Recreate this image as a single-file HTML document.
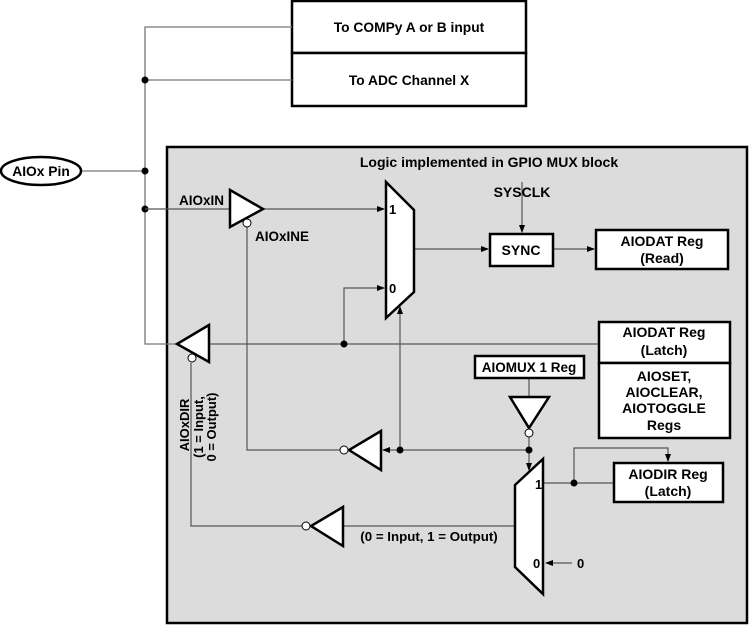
<!DOCTYPE html>
<html><head><meta charset="utf-8"><style>
html,body{margin:0;padding:0;background:#fff;}
svg{display:block;font-family:"Liberation Sans",Arial,sans-serif;font-weight:bold;}
</style></head><body>
<svg width="752" height="627" viewBox="0 0 752 627" xmlns="http://www.w3.org/2000/svg">
<defs>
<marker id="a" markerWidth="8" markerHeight="8" refX="7" refY="4" orient="auto" markerUnits="userSpaceOnUse">
<path d="M0,1 L8,4 L0,7 Z" fill="#000"/></marker>
</defs>
<rect x="167" y="147" width="580" height="476" fill="#dcdcdc" stroke="#000" stroke-width="2.5"/>
<rect x="292" y="1" width="234" height="52" fill="#fff" stroke="#000" stroke-width="2.5"/>
<rect x="292" y="53" width="234" height="53" fill="#fff" stroke="#000" stroke-width="2.5"/>
<text x="409" y="32" font-size="13.8" text-anchor="middle">To COMPy A or B input</text>
<text x="409" y="85" font-size="13.8" text-anchor="middle">To ADC Channel X</text>
<g stroke="#777" stroke-width="1.3" fill="none">
<path d="M292,27 H145 V344 H177"/>
<path d="M145,80 H292"/>
<path d="M81,171 H145"/>
</g>
<circle cx="145" cy="80" r="3.5"/><circle cx="145" cy="171" r="3.5"/><circle cx="145" cy="209" r="3.5"/>
<ellipse cx="41" cy="171" rx="40" ry="14" fill="#fff" stroke="#000" stroke-width="2.5"/>
<text x="41" y="176" font-size="13.8" text-anchor="middle">AIOx Pin</text>
<text x="489" y="167" font-size="14" text-anchor="middle">Logic implemented in GPIO MUX block</text>
<g stroke="#555" stroke-width="1.2" fill="none">
<path d="M145,209 H230"/>
<path d="M263,209 H384" marker-end="url(#a)"/>
<path d="M247,227 V450 H340"/>
<path d="M209,344 H599"/>
<path d="M344,344 V288 H384" marker-end="url(#a)"/>
<path d="M400,450 V307" marker-end="url(#a)"/>
<path d="M529,450 H383" marker-end="url(#a)"/>
<path d="M414,249 H488" marker-end="url(#a)"/>
<path d="M522,182 V232" marker-end="url(#a)"/>
<path d="M553,249 H594" marker-end="url(#a)"/>
<path d="M529,378 V396"/>
<path d="M529,437 V470" marker-end="url(#a)"/>
<path d="M543,483 H614"/>
<path d="M574,483 V448 H668 V461" marker-end="url(#a)"/>
<path d="M572,563 H546" marker-end="url(#a)"/>
<path d="M515,526 H343"/>
<path d="M302,526 H191 V363"/>
</g>
<circle cx="344" cy="344" r="3.5"/><circle cx="400" cy="450" r="3.5"/><circle cx="529" cy="450" r="3.5"/><circle cx="574" cy="483" r="3.5"/>
<path d="M230,190 L263,209 L230,227 Z" fill="#fff" stroke="#000" stroke-width="2.5"/>
<circle cx="247" cy="223" r="4" fill="#fff" stroke="#000"/>
<text x="179" y="205" font-size="13.5">AIOxIN</text>
<text x="255" y="241" font-size="13.5">AIOxINE</text>
<path d="M209,325 L177,344 L209,362 Z" fill="#fff" stroke="#000" stroke-width="2.5"/>
<circle cx="192" cy="358" r="4" fill="#fff" stroke="#000"/>
<path d="M386,182 L414,210 L414,292 L386,318 Z" fill="#fff" stroke="#000" stroke-width="2.5"/>
<text x="389" y="214" font-size="13">1</text>
<text x="389" y="293" font-size="13">0</text>
<text x="522" y="197" font-size="14" text-anchor="middle">SYSCLK</text>
<rect x="490" y="234" width="63" height="32" fill="#fff" stroke="#000" stroke-width="2.5"/>
<text x="521" y="255" font-size="14" text-anchor="middle">SYNC</text>
<rect x="596" y="230" width="132" height="39" fill="#fff" stroke="#000" stroke-width="2.5"/>
<text x="662" y="246" font-size="14" text-anchor="middle">AIODAT Reg</text>
<text x="662" y="263" font-size="14" text-anchor="middle">(Read)</text>
<rect x="599" y="322" width="131" height="41" fill="#fff" stroke="#000" stroke-width="2.5"/>
<rect x="599" y="363" width="131" height="75" fill="#fff" stroke="#000" stroke-width="2.5"/>
<text x="664" y="337" font-size="14" text-anchor="middle">AIODAT Reg</text>
<text x="664" y="355" font-size="14" text-anchor="middle">(Latch)</text>
<text x="664" y="381" font-size="14" text-anchor="middle">AIOSET,</text>
<text x="664" y="397" font-size="14" text-anchor="middle">AIOCLEAR,</text>
<text x="664" y="413" font-size="14" text-anchor="middle">AIOTOGGLE</text>
<text x="664" y="430" font-size="14" text-anchor="middle">Regs</text>
<rect x="475" y="356" width="109" height="22" fill="#fff" stroke="#000" stroke-width="2.5"/>
<text x="529" y="372" font-size="13.5" text-anchor="middle">AIOMUX 1 Reg</text>
<path d="M510,397 L549,397 L529,428 Z" fill="#fff" stroke="#000" stroke-width="2.5"/>
<circle cx="529" cy="433" r="4" fill="#fff" stroke="#000"/>
<path d="M381,431 L349,450 L381,470 Z" fill="#fff" stroke="#000" stroke-width="2.5"/>
<circle cx="344" cy="450" r="4" fill="#fff" stroke="#000"/>
<path d="M543,459 L543,594 L515,567 L515,485 Z" fill="#fff" stroke="#000" stroke-width="2.5"/>
<text x="535" y="489" font-size="13">1</text>
<text x="533" y="568" font-size="13">0</text>
<text x="577" y="568" font-size="13">0</text>
<rect x="614" y="463" width="109" height="39" fill="#fff" stroke="#000" stroke-width="2.5"/>
<text x="668" y="479" font-size="14" text-anchor="middle">AIODIR Reg</text>
<text x="668" y="496" font-size="14" text-anchor="middle">(Latch)</text>
<path d="M343,507 L311,526 L343,546 Z" fill="#fff" stroke="#000" stroke-width="2.5"/>
<circle cx="306" cy="526" r="4" fill="#fff" stroke="#000"/>
<text x="429" y="541" font-size="13.3" text-anchor="middle">(0 = Input, 1 = Output)</text>
<text transform="translate(189,425) rotate(-90)" font-size="13" text-anchor="middle">AIOxDIR</text>
<text transform="translate(203,427) rotate(-90)" font-size="13" text-anchor="middle">(1 = Input,</text>
<text transform="translate(216,427) rotate(-90)" font-size="13" text-anchor="middle">0 = Output)</text>
</svg>
</body></html>
